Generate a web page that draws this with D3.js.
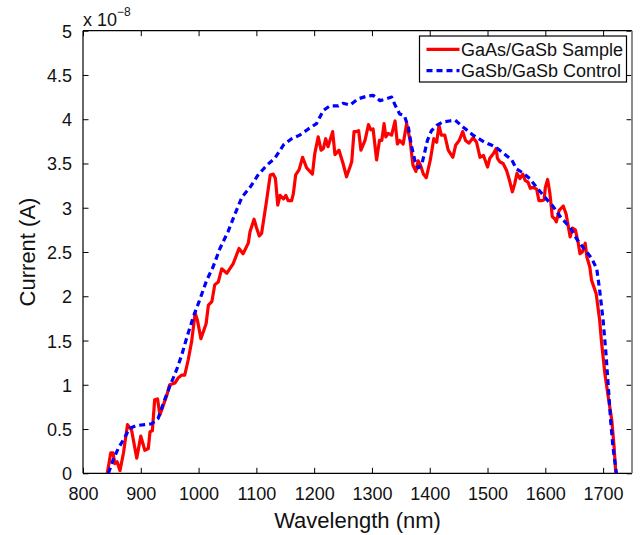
<!DOCTYPE html>
<html>
<head>
<meta charset="utf-8">
<script src="https://cdn.jsdelivr.net/npm/d3@7"></script>
<style>
  html, body { margin: 0; padding: 0; background: #fff; }
  svg { display: block; font-family: "Liberation Sans", Arial, Helvetica, sans-serif; }
</style>
</head>
<body>
<svg id="chart" width="642" height="535"></svg>
<script>
// ---- data (current in units of 1e-8 A) ----
const sampleWavelength = [842,848,852,855,859,864,870,877,884,893,900,907,913,916,920,924,929,933,945,950,959,965,971,976,982,988,994,998,1004,1013,1017,1023,1028,1034,1040,1049,1060,1070,1077,1086,1089,1096,1100,1105,1109,1117,1124,1129,1133,1137,1141,1147,1151,1155,1161,1164,1168,1174,1180,1187,1197,1201,1207,1212,1216,1220,1224,1232,1236,1243,1250,1256,1262,1265,1269,1273,1277,1281,1288,1294,1298,1302,1308,1313,1317,1321,1324,1328,1334,1340,1344,1348,1354,1360,1366,1371,1376,1380,1384,1389,1394,1401,1407,1412,1416,1420,1426,1432,1440,1445,1451,1457,1462,1468,1475,1481,1487,1493,1500,1504,1510,1515,1517,1521,1527,1533,1538,1543,1547,1551,1556,1561,1565,1570,1574,1579,1585,1589,1594,1598,1600,1604,1608,1612,1617,1619,1624,1631,1636,1643,1647,1652,1657,1660,1664,1669,1672,1677,1680,1688,1694,1697,1703,1709,1715,1719,1722];
const sampleCurrent = [0,0.23,0.23,0.11,0.13,0.03,0.23,0.55,0.49,0.17,0.42,0.26,0.28,0.47,0.48,0.83,0.84,0.66,0.88,1.0,1.02,1.08,1.11,1.11,1.28,1.49,1.81,1.73,1.52,1.69,1.90,1.94,2.13,2.16,2.31,2.26,2.37,2.54,2.48,2.60,2.73,2.87,2.78,2.68,2.71,3.05,3.37,3.38,3.33,3.03,3.14,3.10,3.14,3.08,3.08,3.16,3.37,3.43,3.57,3.45,3.38,3.61,3.80,3.65,3.67,3.78,3.69,3.86,3.60,3.65,3.50,3.35,3.46,3.52,3.86,3.86,3.87,3.65,3.76,3.94,3.88,3.89,3.54,3.76,3.76,3.95,3.80,3.84,3.82,3.98,3.72,3.76,3.72,3.95,3.76,3.48,3.41,3.53,3.48,3.38,3.34,3.54,3.78,3.74,3.93,3.82,3.82,3.65,3.57,3.71,3.76,3.86,3.76,3.73,3.79,3.74,3.57,3.59,3.46,3.56,3.61,3.67,3.56,3.52,3.50,3.42,3.31,3.18,3.27,3.39,3.33,3.38,3.31,3.29,3.22,3.23,3.21,3.08,3.08,3.09,3.23,3.32,3.16,2.90,2.87,2.84,2.97,3.02,2.93,2.67,2.77,2.75,2.60,2.48,2.50,2.60,2.44,2.33,2.18,2.03,1.73,1.50,1.13,0.86,0.60,0.30,0];

const controlWavelength = [844,852,861,870,881,893,907,919,930,939,950,962,971,979,991,1002,1014,1025,1037,1051,1063,1075,1089,1103,1118,1132,1147,1161,1175,1190,1204,1216,1227,1242,1250,1262,1276,1291,1302,1314,1325,1334,1340,1348,1356,1363,1368,1374,1380,1386,1391,1396,1403,1412,1423,1434,1444,1458,1475,1495,1513,1527,1542,1550,1562,1573,1585,1599,1614,1628,1643,1654,1669,1680,1689,1694,1700,1705,1709,1713,1717,1723];
const controlCurrent = [0,0.15,0.28,0.38,0.51,0.54,0.55,0.56,0.62,0.79,0.98,1.17,1.34,1.52,1.77,1.96,2.18,2.33,2.54,2.73,2.93,3.12,3.23,3.37,3.48,3.56,3.71,3.78,3.82,3.89,3.95,4.10,4.15,4.15,4.18,4.16,4.23,4.26,4.27,4.21,4.23,4.25,4.16,4.06,4.04,3.91,3.71,3.54,3.45,3.48,3.62,3.76,3.87,3.93,3.97,3.98,3.99,3.91,3.82,3.74,3.69,3.62,3.54,3.44,3.39,3.33,3.23,3.12,3.01,2.88,2.78,2.65,2.52,2.43,2.31,2.07,1.73,1.35,0.98,0.60,0.30,0];

const seriesNames = ["GaAs/GaSb Sample", "GaSb/GaSb Control"];
const xTickValues = [800,900,1000,1100,1200,1300,1400,1500,1600,1700];
const xTickLabels = ["800","900","1000","1100","1200","1300","1400","1500","1600","1700"];
const yTickValues = [0,0.5,1,1.5,2,2.5,3,3.5,4,4.5,5];
const yTickLabels = ["0","0.5","1","1.5","2","2.5","3","3.5","4","4.5","5"];
const xLabel = "Wavelength (nm)";
const yLabel = "Current (A)";

// ---- layout ----
const L = 83, R = 632, T = 30.7, B = 473.3;
const svg = d3.select("#chart");
const x = d3.scaleLinear().domain([800, 1750]).range([L, R]);
const y = d3.scaleLinear().domain([0, 5]).range([B, T]);
const tickLen = 5.5;
const fontTick = 18;

svg.append("defs").append("clipPath").attr("id", "clip")
  .append("rect").attr("x", L).attr("y", T).attr("width", R - L).attr("height", B - T);

// axes via d3 axis generators (inward ticks)
const xAxisB = d3.axisBottom(x).tickValues(xTickValues).tickSizeInner(-tickLen).tickSizeOuter(0)
  .tickFormat((d, i) => xTickLabels[i]);
const xAxisT = d3.axisTop(x).tickValues(xTickValues).tickSizeInner(-tickLen).tickSizeOuter(0).tickFormat("");
const yAxisL = d3.axisLeft(y).tickValues(yTickValues).tickSizeInner(-tickLen).tickSizeOuter(0)
  .tickFormat((d, i) => yTickLabels[i]);
const yAxisR = d3.axisRight(y).tickValues(yTickValues).tickSizeInner(-tickLen).tickSizeOuter(0).tickFormat("");

function styleAxis(g) {
  g.select(".domain").remove();
  g.selectAll(".tick line").attr("stroke", "#000").attr("stroke-width", 1);
  g.selectAll("text").attr("font-size", fontTick).attr("fill", "#111")
    .attr("font-family", "'Liberation Sans', Arial, sans-serif");
}
const gxB = svg.append("g").attr("transform", `translate(0,${B})`).call(xAxisB).call(styleAxis);
gxB.selectAll("text").attr("dy", "0.71em").attr("y", 13.5);
svg.append("g").attr("transform", `translate(0,${T})`).call(xAxisT).call(styleAxis);
const gyL = svg.append("g").attr("transform", `translate(${L},0)`).call(yAxisL).call(styleAxis);
gyL.selectAll("text").attr("x", -11).attr("dy", "0.36em");
svg.append("g").attr("transform", `translate(${R},0)`).call(yAxisR).call(styleAxis);

// box
svg.append("line").attr("x1", L).attr("x2", R).attr("y1", B).attr("y2", B).attr("stroke", "#000").attr("stroke-width", 1.2);
svg.append("line").attr("x1", L).attr("x2", R).attr("y1", T).attr("y2", T).attr("stroke", "#000").attr("stroke-width", 1.2);
svg.append("line").attr("x1", L).attr("x2", L).attr("y1", T).attr("y2", B).attr("stroke", "#000").attr("stroke-width", 1.2);
svg.append("line").attr("x1", R).attr("x2", R).attr("y1", T).attr("y2", B).attr("stroke", "#808080").attr("stroke-width", 1.8);

// lines
const line = d3.line().x(d => x(d[0])).y(d => y(d[1]));
const sampleData = sampleWavelength.map((w, i) => [w, sampleCurrent[i]]);
const controlData = controlWavelength.map((w, i) => [w, controlCurrent[i]]);
const plot = svg.append("g").attr("clip-path", "url(#clip)");
plot.append("path").datum(sampleData).attr("d", line)
  .attr("fill", "none").attr("stroke", "#ff0000").attr("stroke-width", 3.2)
  .attr("stroke-linejoin", "round").attr("stroke-linecap", "butt");
plot.append("path").datum(controlData).attr("d", line)
  .attr("fill", "none").attr("stroke", "#0000ff").attr("stroke-width", 3.2)
  .attr("stroke-dasharray", "6,4").attr("stroke-linejoin", "round");

// exponent label
const ex = svg.append("text").attr("x", 83).attr("y", 26).attr("font-size", 18).attr("fill", "#111");
ex.append("tspan").text("x 10");
ex.append("tspan").attr("font-size", 12).attr("dy", -10).text("\u22128");

// axis labels
svg.append("text").attr("x", (L + R) / 2).attr("y", 527.5).attr("text-anchor", "middle")
  .attr("font-size", 22).attr("fill", "#111").text(xLabel);
svg.append("text").attr("transform", `translate(35,${(T + B) / 2}) rotate(-90)`)
  .attr("text-anchor", "middle").attr("font-size", 22).attr("fill", "#111").text(yLabel);

// legend
const lg = svg.append("g");
lg.append("rect").attr("x", 419.5).attr("y", 36).attr("width", 207).attr("height", 46)
  .attr("fill", "#fff").attr("stroke", "#000").attr("stroke-width", 1.2);
const legendColors = ["#ff0000", "#0000ff"];
const legendDash = [null, "6,4"];
seriesNames.forEach((name, i) => {
  const yy = 49.3 + i * 21.4;
  lg.append("line").attr("x1", 426.5).attr("x2", 459.5).attr("y1", yy).attr("y2", yy)
    .attr("stroke", legendColors[i]).attr("stroke-width", 3.2)
    .attr("stroke-dasharray", legendDash[i]);
  lg.append("text").attr("x", 461).attr("y", yy + 6.6).attr("font-size", 18).attr("fill", "#111").text(name);
});
</script>
</body>
</html>
